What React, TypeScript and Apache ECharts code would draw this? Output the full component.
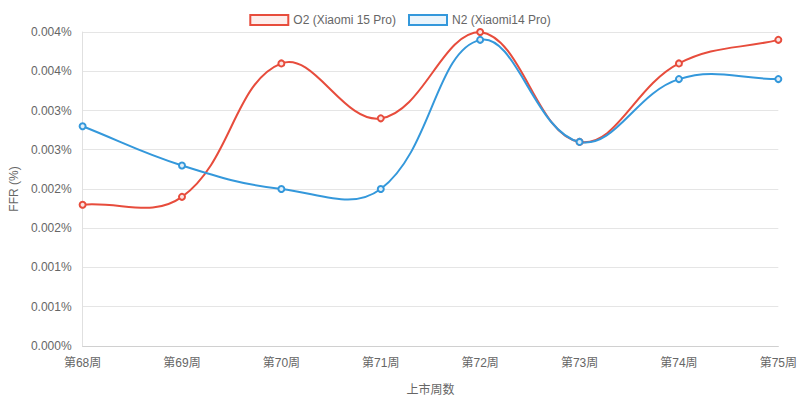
import React, { useEffect, useRef } from "react";
import * as echarts from "echarts";

const categories = ["第68周", "第69周", "第70周", "第71周", "第72周", "第73周", "第74周", "第75周"];
const o2Values = [0.0018, 0.0019, 0.0036, 0.0029, 0.004, 0.0026, 0.0036, 0.0039];
const n2Values = [0.0028, 0.0023, 0.002, 0.002, 0.0039, 0.0026, 0.0034, 0.0034];
const seriesNames = ["O2 (Xiaomi 15 Pro)", "N2 (Xiaomi14 Pro)"];
const yMin = 0;
const yMax = 0.004;
const yInterval = 0.0005;

const RED = "#e74c3c";
const BLUE = "#3498db";
const RED_FILL = "rgba(231,76,60,0.1)";
const BLUE_FILL = "rgba(52,152,219,0.1)";
const FONT = "'Liberation Sans', Arial, 'Noto Sans CJK SC', sans-serif";
const TENSION = 0.4;

type Pt = { x: number; y: number };

function controlPoints(pts: Pt[], area: { x: number; y: number; width: number; height: number }) {
  const res = pts.map((cur, i) => {
    const prev = i > 0 ? pts[i - 1] : cur;
    const next = i < pts.length - 1 ? pts[i + 1] : cur;
    const d01 = Math.hypot(cur.x - prev.x, cur.y - prev.y);
    const d12 = Math.hypot(next.x - cur.x, next.y - cur.y);
    let s01 = d01 / (d01 + d12);
    let s12 = d12 / (d01 + d12);
    if (isNaN(s01)) s01 = 0;
    if (isNaN(s12)) s12 = 0;
    const fa = TENSION * s01;
    const fb = TENSION * s12;
    return {
      prev: { x: cur.x - fa * (next.x - prev.x), y: cur.y - fa * (next.y - prev.y) },
      next: { x: cur.x + fb * (next.x - prev.x), y: cur.y + fb * (next.y - prev.y) },
    };
  });
  const clampX = (v: number) => Math.max(area.x, Math.min(area.x + area.width, v));
  const clampY = (v: number) => Math.max(area.y, Math.min(area.y + area.height, v));
  res.forEach((c) => {
    c.prev.x = clampX(c.prev.x);
    c.prev.y = clampY(c.prev.y);
    c.next.x = clampX(c.next.x);
    c.next.y = clampY(c.next.y);
  });
  return res;
}

function makeRender(values: number[], color: string) {
  return (params: any, api: any) => {
    const i = params.dataIndex;
    const pts: Pt[] = values.map((v, j) => {
      const c = api.coord([j, v]);
      return { x: c[0], y: c[1] };
    });
    const cps = controlPoints(pts, params.coordSys);
    const children: any[] = [];
    if (i < pts.length - 1) {
      children.push({
        type: "bezierCurve",
        shape: {
          x1: pts[i].x,
          y1: pts[i].y,
          cpx1: cps[i].next.x,
          cpy1: cps[i].next.y,
          cpx2: cps[i + 1].prev.x,
          cpy2: cps[i + 1].prev.y,
          x2: pts[i + 1].x,
          y2: pts[i + 1].y,
        },
        style: { stroke: color, lineWidth: 2, fill: null },
        z2: 1,
      });
    }
    return { type: "group", children };
  };
}

function makeDots(values: number[], color: string, fill: string) {
  return (params: any, api: any) => {
    const i = params.dataIndex;
    const c = api.coord([i, values[i]]);
    return {
      type: "circle",
      shape: { cx: c[0], cy: c[1], r: 3 },
      style: { fill, stroke: color, lineWidth: 2 },
      z2: 10,
    };
  };
}

export default function App() {
  const ref = useRef<HTMLDivElement>(null);
  useEffect(() => {
    if (!ref.current) return;
    const chart = echarts.init(ref.current, undefined, { renderer: "svg" });
    const dataOf = (vals: number[]) => vals.map((v, j) => [j, v]);
    chart.setOption({
      animation: false,
      textStyle: { fontFamily: FONT },
      legend: {
        top: 9,
        left: "center",
        itemWidth: 38,
        itemHeight: 10,
        itemGap: 12,
        textStyle: { color: "#666", fontSize: 12, fontFamily: FONT },
        data: [
          {
            name: seriesNames[0],
            icon: "rect",
            itemStyle: { color: RED_FILL, borderColor: RED, borderWidth: 2 },
          },
          {
            name: seriesNames[1],
            icon: "rect",
            itemStyle: { color: BLUE_FILL, borderColor: BLUE, borderWidth: 2 },
          },
        ],
      },
      grid: { left: 77, right: 21, top: 32, bottom: 51, containLabel: false },
      xAxis: {
        type: "category",
        data: categories,
        boundaryGap: false,
        name: "上市周数",
        nameLocation: "middle",
        nameGap: 38,
        nameTextStyle: { color: "#666", fontSize: 12, fontFamily: FONT },
        axisLine: { show: true, lineStyle: { color: "#d0d0d0" } },
        axisTick: { show: false },
        axisLabel: { color: "#666", fontSize: 12, margin: 11, fontFamily: FONT },
        splitLine: { show: false },
      },
      yAxis: {
        type: "value",
        min: yMin,
        max: yMax,
        interval: yInterval,
        name: "FFR (%)",
        nameLocation: "middle",
        nameGap: 60,
        nameRotate: 90,
        nameTextStyle: { color: "#666", fontSize: 12, fontFamily: FONT },
        axisLine: { show: true, lineStyle: { color: "#e0e0e0" } },
        axisTick: { show: false },
        axisLabel: {
          color: "#666",
          fontSize: 12,
          margin: 11,
          fontFamily: FONT,
          formatter: (v: number) => v.toFixed(3) + "%",
        },
        splitLine: { show: true, lineStyle: { color: "#e5e5e5", width: 1 } },
      },
      series: [
        {
          name: seriesNames[0],
          type: "custom",
          coordinateSystem: "cartesian2d",
          renderItem: makeRender(o2Values, RED),
          data: dataOf(o2Values),
          clip: false,
          z: 2,
        },
        {
          name: seriesNames[1],
          type: "custom",
          coordinateSystem: "cartesian2d",
          renderItem: makeRender(n2Values, BLUE),
          data: dataOf(n2Values),
          clip: false,
          z: 3,
        },
        {
          name: seriesNames[0],
          type: "custom",
          coordinateSystem: "cartesian2d",
          renderItem: makeDots(o2Values, RED, "#fbe4e2"),
          data: dataOf(o2Values),
          clip: false,
          z: 4,
        },
        {
          name: seriesNames[1],
          type: "custom",
          coordinateSystem: "cartesian2d",
          renderItem: makeDots(n2Values, BLUE, "#e1eff9"),
          data: dataOf(n2Values),
          clip: false,
          z: 5,
        },
      ],
    });
    return () => chart.dispose();
  }, []);
  return <div ref={ref} style={{ width: 800, height: 401, position: "absolute", left: 0, top: 0 }} />;
}
